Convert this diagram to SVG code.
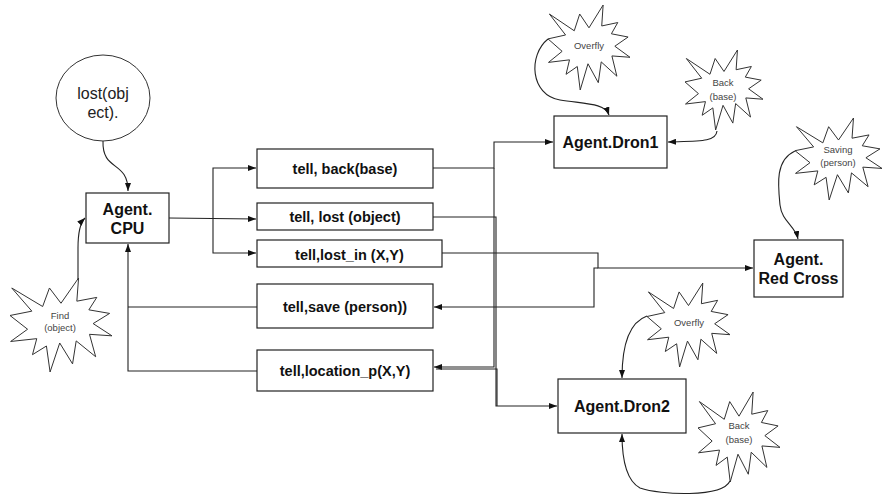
<svg xmlns="http://www.w3.org/2000/svg" xmlns:xlink="http://www.w3.org/1999/xlink" width="883" height="495" viewBox="0 0 883 495">
  <style>
    .box { fill: #ffffff; stroke: #222; stroke-width: 1.2; }
    .seal { fill: #ffffff; stroke: #333; stroke-width: 1; }
    .lbl { font-family: "Liberation Sans", Arial, sans-serif; font-weight: bold; font-size: 14.5px; fill: #111; text-anchor: middle; }
    .agent { font-family: "Liberation Sans", Arial, sans-serif; font-weight: bold; font-size: 16px; fill: #111; text-anchor: middle; }
    .small { font-family: "Liberation Sans", Arial, sans-serif; font-size: 9.5px; fill: #444; text-anchor: middle; }
    .big { font-family: "Liberation Sans", Arial, sans-serif; font-size: 16px; fill: #222; text-anchor: middle; }
    .wire { fill: none; stroke: #222; stroke-width: 1.1; }
  </style>
  <defs>
    <marker id="arr" markerUnits="userSpaceOnUse" markerWidth="8" markerHeight="6" refX="8" refY="3" orient="auto">
      <path d="M0,0 L8,3 L0,6 Z" fill="#111"/>
    </marker>
    <!-- irregular explosion outline in a 21600 x 21600 box -->
    <path id="seal" vector-effect="non-scaling-stroke" d="M10800,5800 L14522,0 L14155,5325 L18380,4457 L16702,7315 L21097,8137 L17607,10475 L21600,13290 L16837,12942 L18145,18095 L14020,14457 L13247,19737 L10532,14935 L8485,21600 L7715,15627 L4762,17617 L5667,13937 L135,14587 L3722,11775 L0,8615 L4627,7617 L370,2295 L6915,6552 L8352,2295 Z"/>
  </defs>

  <g id="connectors">
    <path class="wire" d="M103,141 C102,172 128,160 128,191" marker-end="url(#arr)"/>
    <path class="wire" d="M78,279 L78,248 C78,232 80,223 85,218" marker-end="url(#arr)"/>
    <path class="wire" d="M169,218 L256,219" marker-end="url(#arr)"/>
    <path class="wire" d="M213,218 V168 H256" marker-end="url(#arr)"/>
    <path class="wire" d="M213,218 V253 H256" marker-end="url(#arr)"/>
    <path class="wire" d="M257,307 H128"/>
    <path class="wire" d="M257,371 H128 V244" marker-end="url(#arr)"/>
    <path class="wire" d="M433,168 H494 V142 H553" marker-end="url(#arr)"/>
    <path class="wire" d="M494,168 V367 H434" marker-end="url(#arr)"/>
    <path class="wire" d="M433,217 H496 V406 H557" marker-end="url(#arr)"/>
    <path class="wire" d="M497,406 V369 H436"/>
    <path class="wire" d="M442,253 H598 V268 H753" marker-end="url(#arr)"/>
    <path class="wire" d="M598,268 H594 V307 H434" marker-end="url(#arr)"/>
    <path class="wire" d="M548,39 C528,55 530,95 560,100 C585,104 605,103 609,115" marker-end="url(#arr)"/>
    <path class="wire" d="M717,131 C716,142 700,141 668,142" marker-end="url(#arr)"/>
    <path class="wire" d="M795,151 C775,160 778,185 780,205 C782,222 795,225 798,239" marker-end="url(#arr)"/>
    <path class="wire" d="M647,316 C630,322 622,345 622,378" marker-end="url(#arr)"/>
    <path class="wire" d="M730,481 C722,498 660,495 640,488 C625,480 622,455 622,434" marker-end="url(#arr)"/>
  </g>

  <g id="lost-object">
    <ellipse cx="103" cy="98" rx="47" ry="43" fill="#fff" stroke="#333" stroke-width="1"/>
    <text class="big" x="103" y="99">lost(obj</text>
    <text class="big" x="103" y="118">ect).</text>
  </g>

  <g id="agent-cpu">
    <rect class="box" x="86" y="193" width="83" height="50"/>
    <text class="agent" x="127.5" y="215">Agent.</text>
    <text class="agent" x="127.5" y="234">CPU</text>
  </g>

  <g id="find-object">
    <use href="#seal" class="seal" transform="translate(10,278) scale(0.004722,0.004352)"/>
    <text class="small" x="60" y="319">Find</text>
    <text class="small" x="60" y="331">(object)</text>
  </g>

  <g id="tell-back">
    <rect class="box" x="257" y="149" width="176" height="39"/>
    <text class="lbl" x="345" y="174">tell, back(base)</text>
  </g>
  <g id="tell-lost">
    <rect class="box" x="257" y="203" width="176" height="27"/>
    <text class="lbl" x="345" y="222">tell, lost (object)</text>
  </g>
  <g id="tell-lost-in">
    <rect class="box" x="257" y="240" width="185" height="27"/>
    <text class="lbl" x="349.5" y="260">tell,lost_in (X,Y)</text>
  </g>
  <g id="tell-save">
    <rect class="box" x="257" y="284" width="176" height="44"/>
    <text class="lbl" x="345" y="312">tell,save (person))</text>
  </g>
  <g id="tell-location">
    <rect class="box" x="257" y="350" width="176" height="41"/>
    <text class="lbl" x="345" y="376">tell,location_p(X,Y)</text>
  </g>

  <g id="agent-dron1">
    <rect class="box" x="554" y="116" width="113" height="52"/>
    <text class="agent" x="610.5" y="148">Agent.Dron1</text>
  </g>
  <g id="overfly-1">
    <use href="#seal" class="seal" transform="translate(548,5) scale(0.003796,0.003935)"/>
    <text class="small" x="589" y="49">Overfly</text>
  </g>
  <g id="back-1">
    <use href="#seal" class="seal" transform="translate(685,50) scale(0.003611,0.003704)"/>
    <text class="small" x="723" y="86">Back</text>
    <text class="small" x="723" y="100">(base)</text>
  </g>

  <g id="agent-red-cross">
    <rect class="box" x="754" y="240" width="89" height="57"/>
    <text class="agent" x="798.5" y="265">Agent.</text>
    <text class="agent" x="798.5" y="284">Red Cross</text>
  </g>
  <g id="saving-person">
    <use href="#seal" class="seal" transform="translate(795,118) scale(0.004028,0.003796)"/>
    <text class="small" x="838" y="153">Saving</text>
    <text class="small" x="838" y="166">(person)</text>
  </g>

  <g id="agent-dron2">
    <rect class="box" x="558" y="379" width="128" height="54"/>
    <text class="agent" x="622" y="412">Agent.Dron2</text>
  </g>
  <g id="overfly-2">
    <use href="#seal" class="seal" transform="translate(647,283) scale(0.003843,0.003889)"/>
    <text class="small" x="689" y="326">Overfly</text>
  </g>
  <g id="back-2">
    <use href="#seal" class="seal" transform="translate(698,392) scale(0.003796,0.004167)"/>
    <text class="small" x="739" y="429">Back</text>
    <text class="small" x="739" y="443">(base)</text>
  </g>
</svg>
